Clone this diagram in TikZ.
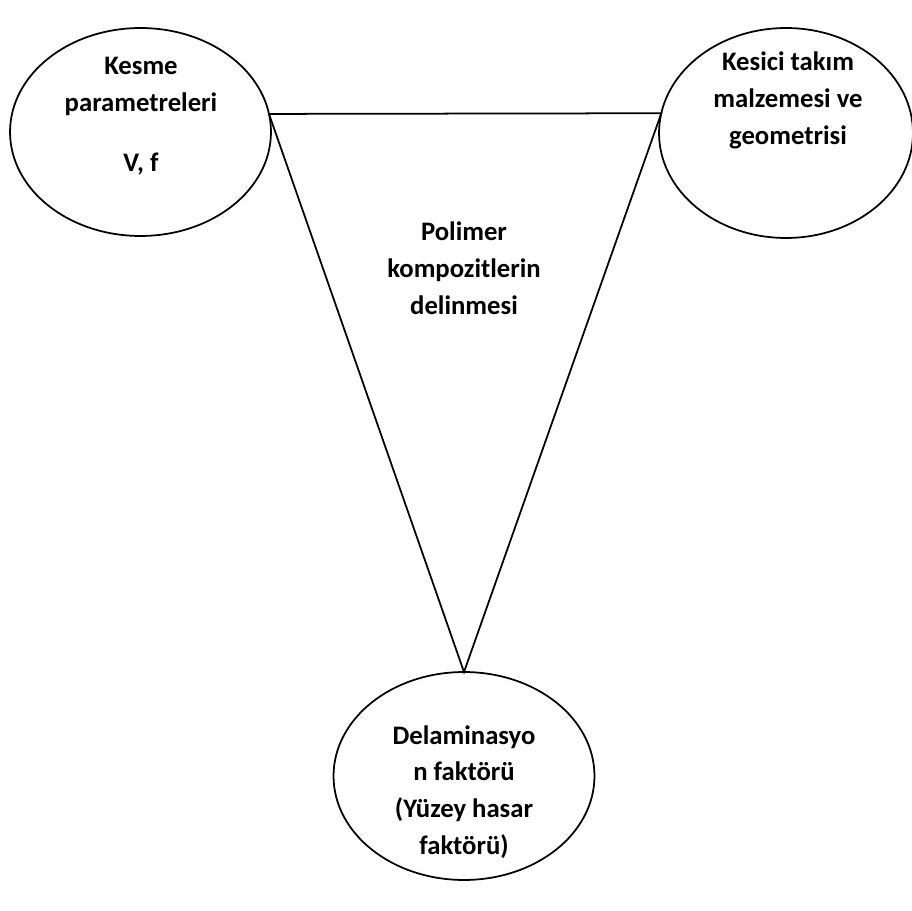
\documentclass[tikz,border=0pt]{standalone}
\usepackage{fontspec}
\setmainfont{Carlito}
\usetikzlibrary{shapes.geometric}

\begin{document}
\begin{tikzpicture}[x=0.02cm,y=-0.02cm,
        elps/.style={draw=black,line width=1pt,ellipse,inner sep=0pt,outer sep=0pt,
          minimum width=5.22cm,minimum height=4.16cm},
        lbl/.style={font=\fontsize{15.2}{21}\selectfont\bfseries,align=center}
      ]
      \useasboundingbox (0,0) rectangle (912,911);

      \node[elps] (kesme) at (140.5,132) {};
      \node[elps,minimum width=5.08cm,minimum height=4.2cm] (takim) at (786,133) {};
      \node[elps] (delam) at (464,776) {};

      \draw[line width=1pt] (kesme.8) -- (takim.171) -- (delam.north) -- (kesme.8);

      \node[lbl] (kesmetxt) at (141,116) {Kesme\\parametreleri\\[13pt]V, f};
      \node[lbl] (takimtxt) at (788,100.5) {Kesici takım\\malzemesi ve\\geometrisi};
      \node[lbl] (poltxt) at (464,268) {Polimer\\kompozitlerin\\delinmesi};
      \node[lbl] (delamtxt) at (464,792) {Delaminasyo\\n faktörü\\(Yüzey hasar\\faktörü)};

    \end{tikzpicture}
\end{document}
